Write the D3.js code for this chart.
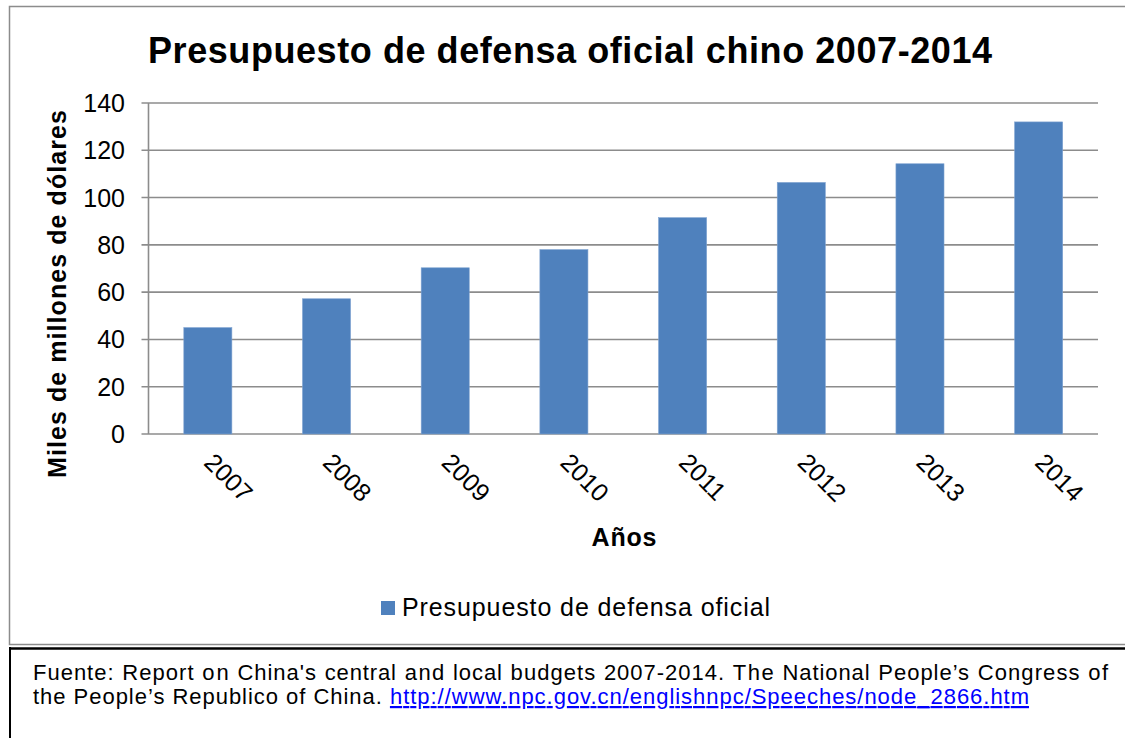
<!DOCTYPE html>
<html>
<head>
<meta charset="utf-8">
<script src="https://cdn.jsdelivr.net/npm/d3@7"></script>
<style>
    body { margin: 0; background: #fff; }
    svg { display: block; font-family: "Liberation Sans", Arial, sans-serif; }
</style>
</head>
<body>
<script>
var years = ["2007", "2008", "2009", "2010", "2011", "2012", "2013", "2014"];
var budget = [45, 57.2, 70.3, 78, 91.5, 106.4, 114.3, 132];
var yTicks = [0, 20, 40, 60, 80, 100, 120, 140];

var width = 1125;
var height = 738;
var plotLeft = 148.5, plotRight = 1098, plotTop = 103, plotBottom = 434;

var svg = d3.select("body").append("svg")
    .attr("width", width)
    .attr("height", height);

/*****************  Frames **********************/

svg.append("rect")
    .attr("x", 9.5).attr("y", 6.5)
    .attr("width", width).attr("height", 638)
    .attr("fill", "none")
    .attr("stroke", "#8c8c8c")
    .attr("stroke-width", 1.5);

svg.append("line")
    .attr("x1", 9).attr("x2", width)
    .attr("y1", 648.5).attr("y2", 648.5)
    .attr("stroke", "#000").attr("stroke-width", 2.5);

svg.append("line")
    .attr("x1", 10).attr("x2", 10)
    .attr("y1", 647).attr("y2", height)
    .attr("stroke", "#000").attr("stroke-width", 2);

/*****************  Scales **********************/

var x = d3.scaleBand().domain(years).range([plotLeft, plotRight]).padding(0);
var y = d3.scaleLinear().domain([0, 140]).range([plotBottom, plotTop]);

/*****************  Grid + axis **********************/

svg.append("g")
    .selectAll("line")
    .data(yTicks)
    .enter()
    .append("line")
    .attr("x1", plotLeft - 7)
    .attr("x2", plotRight)
    .attr("y1", function (d) { return y(d); })
    .attr("y2", function (d) { return y(d); })
    .attr("stroke", "#8c8c8c")
    .attr("stroke-width", 1.6);

svg.append("line")
    .attr("x1", plotLeft).attr("x2", plotLeft)
    .attr("y1", plotTop).attr("y2", plotBottom)
    .attr("stroke", "#8c8c8c")
    .attr("stroke-width", 1.6);

svg.append("g")
    .selectAll("text")
    .data(yTicks)
    .enter()
    .append("text")
    .attr("x", 125)
    .attr("y", function (d) { return y(d) + 9; })
    .attr("text-anchor", "end")
    .attr("font-size", "25px")
    .attr("fill", "#000")
    .text(function (d) { return d; });

/*****************  Bars **********************/

var barW = x.bandwidth() * 0.405;

svg.append("g")
    .selectAll("rect")
    .data(budget)
    .enter()
    .append("rect")
    .attr("x", function (d, i) { return x(years[i]) + x.bandwidth() / 2 - barW / 2; })
    .attr("y", function (d) { return y(d); })
    .attr("width", barW)
    .attr("height", function (d) { return plotBottom - y(d); })
    .attr("fill", "#4f81bd")
    .attr("stroke", "#7fa3d1")
    .attr("stroke-width", 0.6);

svg.append("g")
    .selectAll("text")
    .data(years)
    .enter()
    .append("text")
    .attr("transform", function (d) {
        return "translate(" + (x(d) + x.bandwidth() / 2 - 5) + ",464) rotate(45)";
    })
    .attr("font-size", "25px")
    .attr("fill", "#000")
    .text(function (d) { return d; });

/*****************  Titles **********************/

svg.append("text")
    .attr("x", 570).attr("y", 63)
    .attr("text-anchor", "middle")
    .attr("font-size", "36px")
    .attr("font-weight", "bold")
    .attr("textLength", 844)
    .text("Presupuesto de defensa oficial chino 2007-2014");

svg.append("text")
    .attr("transform", "translate(66,294) rotate(-90)")
    .attr("text-anchor", "middle")
    .attr("font-size", "25px")
    .attr("font-weight", "bold")
    .attr("textLength", 368)
    .text("Miles de millones de dólares");

svg.append("text")
    .attr("x", 624).attr("y", 546)
    .attr("text-anchor", "middle")
    .attr("font-size", "25px")
    .attr("font-weight", "bold")
    .attr("textLength", 65)
    .text("Años");

/*****************  Legend **********************/

svg.append("rect")
    .attr("x", 381).attr("y", 601)
    .attr("width", 14).attr("height", 14)
    .attr("fill", "#4f81bd");

svg.append("text")
    .attr("x", 402).attr("y", 616)
    .attr("font-size", "25px")
    .attr("textLength", 368)
    .text("Presupuesto de defensa oficial");

/*****************  Source note **********************/

var line1 = "Fuente: Report on China's central and local budgets 2007-2014. The National People\u2019s Congress of".split(" ");
var noteLeft = 33, noteRight = 1108;

var words = svg.append("g")
    .selectAll("text")
    .data(line1)
    .enter()
    .append("text")
    .attr("y", 680)
    .attr("font-size", "22px")
    .attr("fill", "#000")
    .text(function (d) { return d; });

var lens = [];
words.each(function () { lens.push(this.getComputedTextLength() * 1.08); });
words.attr("textLength", function (d, i) { return lens[i]; });
var gap = (noteRight - noteLeft - d3.sum(lens)) / (line1.length - 1);
var pos = noteLeft;
words.attr("x", function (d, i) {
    var p = pos;
    pos += lens[i] + gap;
    return p;
});

var line2 = svg.append("text")
    .attr("x", noteLeft).attr("y", 704)
    .attr("font-size", "22px")
    .attr("fill", "#000")
    .attr("textLength", 996);
line2.append("tspan").text("the People\u2019s Republico of China. ");
line2.append("tspan")
    .attr("fill", "#0000ff")
    .attr("text-decoration", "underline")
    .text("http://www.npc.gov.cn/englishnpc/Speeches/node_2866.htm");
</script>
</body>
</html>
